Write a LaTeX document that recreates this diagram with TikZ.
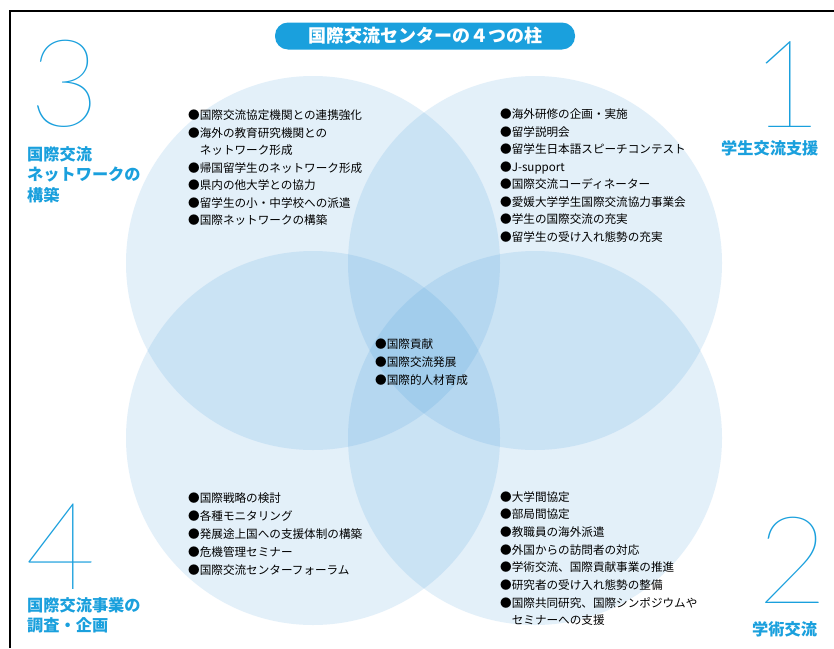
\documentclass[tikz,border=0pt]{standalone}
\usepackage{fontspec}
\setmainfont{Noto Sans CJK JP}
\IfFontExistsTF{Lato Hairline}{\newfontfamily\numfont{Lato Hairline}}{%
 \IfFontExistsTF{Lato Thin}{\newfontfamily\numfont{Lato Thin}}{%
  \IfFontExistsTF{DejaVu Sans ExtraLight}{\newfontfamily\numfont{DejaVu Sans ExtraLight}}{%
   \IfFontExistsTF{Lato Light}{\newfontfamily\numfont{Lato Light}}{\newfontfamily\numfont{Lato}}}}}
\definecolor{accent}{RGB}{26,160,221}
\definecolor{circ}{RGB}{40,140,215}
\begin{document}
\begin{tikzpicture}[x=1pt,y=-1pt,
  item/.style={anchor=north west, align=left, inner sep=0pt, font=\fontsize{11.6}{17.5}\selectfont},
  lab/.style={anchor=north west, align=left, inner sep=0pt, text=accent, font=\bfseries\fontsize{16.2}{20.5}\selectfont},
  num/.style={anchor=south, inner sep=0pt, text height=86pt, text depth=0pt, text=accent, font=\numfont\fontsize{122}{122}\selectfont},
  ring/.style={fill=circ, fill opacity=0.13}]
\useasboundingbox (0,0) rectangle (834,648);
\fill[white] (0,0) rectangle (834,648);
\draw[line width=1.3pt] (10,648) -- (10,11) -- (834,11);
% circles
\fill[ring] (313,263) circle[radius=187pt];
\fill[ring] (535,263) circle[radius=187pt];
\fill[ring] (313,438) circle[radius=187pt];
\fill[ring] (535,438) circle[radius=187pt];
% title
\node[fill=accent, rounded corners=13pt, minimum width=300pt, minimum height=27pt, inner sep=0pt,
      text=white, font=\bfseries\fontsize{18}{18}\selectfont] (title) at (425,36) {国際交流センターの４つの柱};
% numbers
\node[num] (n3) at (65,127) {3};
\node[num] (n1) at (787,128) {1};
\node[num] (n4) at (61,590) {4};
\node[num] (n2) at (793,604) {2};
% labels
\node[lab] (l3) at (27,146) {国際交流\\ネットワークの\\構築};
\node[lab] (l1) at (721,140) {学生交流支援};
\node[lab] (l4) at (27,597) {国際交流事業の\\調査・企画};
\node[lab] (l2) at (752,621) {学術交流};
% item blocks
\node[item] (tl) at (188,110) {●国際交流協定機関との連携強化\\●海外の教育研究機関との\\\hspace{1em}ネットワーク形成\\●帰国留学生のネットワーク形成\\●県内の他大学との協力\\●留学生の小・中学校への派遣\\●国際ネットワークの構築};
\node[item] (tr) at (500,109) {●海外研修の企画・実施\\●留学説明会\\●留学生日本語スピーチコンテスト\\●J-support\\●国際交流コーディネーター\\●愛媛大学学生国際交流協力事業会\\●学生の国際交流の充実\\●留学生の受け入れ態勢の充実};
\node[item, font=\fontsize{11.6}{18}\selectfont] (ct) at (375,339) {●国際貢献\\●国際交流発展\\●国際的人材育成};
\node[item, font=\fontsize{11.6}{18}\selectfont] (bl) at (188,492) {●国際戦略の検討\\●各種モニタリング\\●発展途上国への支援体制の構築\\●危機管理セミナー\\●国際交流センターフォーラム};
\node[item, font=\fontsize{11.6}{17.7}\selectfont] (br) at (500,491) {●大学間協定\\●部局間協定\\●教職員の海外派遣\\●外国からの訪問者の対応\\●学術交流、国際貢献事業の推進\\●研究者の受け入れ態勢の整備\\●国際共同研究、国際シンポジウムや\\\hspace{1em}セミナーへの支援};
\end{tikzpicture}
\end{document}
